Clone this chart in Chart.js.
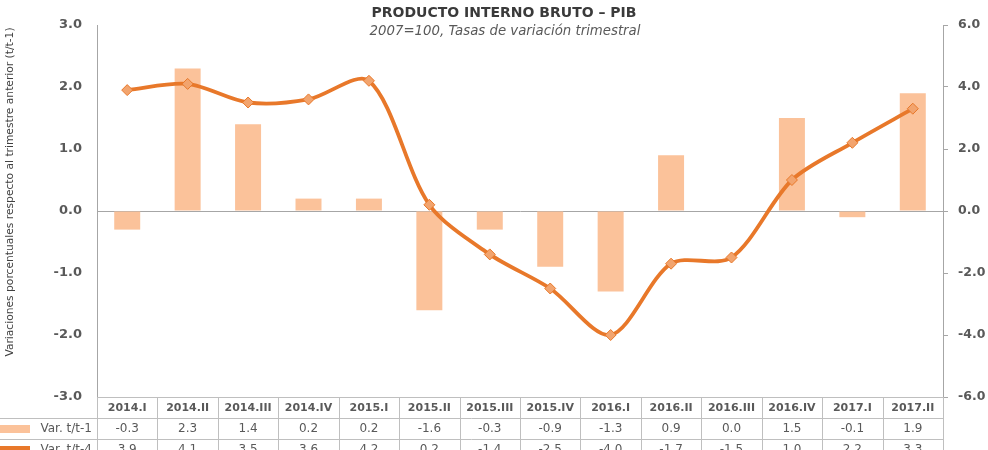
<!DOCTYPE html>
<html>
<head>
<meta charset="utf-8">
<script src="https://cdn.jsdelivr.net/npm/chart.js@4/dist/chart.umd.min.js"></script>
<style>
html,body{margin:0;padding:0;background:#fff;}
#wrap{width:988px;height:450px;position:relative;}
</style>
</head>
<body>
<div id="wrap"><canvas id="c" width="988" height="450"></canvas></div>
<script>
const categories = ["2014.I","2014.II","2014.III","2014.IV","2015.I","2015.II","2015.III","2015.IV","2016.I","2016.II","2016.III","2016.IV","2017.I","2017.II"];
const varQuarter = [-0.3, 2.3, 1.4, 0.2, 0.2, -1.6, -0.3, -0.9, -1.3, 0.9, 0.0, 1.5, -0.1, 1.9];
const varYear = [3.9, 4.1, 3.5, 3.6, 4.2, 0.2, -1.4, -2.5, -4.0, -1.7, -1.5, 1.0, 2.2, 3.3];
const seriesNames = ["Var. t/t-1", "Var. t/t-4"];
const titleText = "PRODUCTO INTERNO BRUTO \u2013 PIB";
const subtitleText = "2007=100, Tasas de variaci\u00f3n trimestral";
const leftAxisTitle = "Variaciones porcentuales respecto al trimestre anterior (t/t-1)";

const barColor = "#FBC29A";
const lineColor = "#E8782A";
const gridGray = "#BFBFBF";
const axisGray = "#A6A6A6";
const textGray = "#595959";

const fmt = v => v.toFixed(1);

const overlay = {
  id: "overlay",
  afterDraw(chart) {
    const ctx = chart.ctx;
    const x = chart.scales.x;
    const area = chart.chartArea;
    ctx.save();
    // Titles
    ctx.fillStyle = "#3a3a3a";
    ctx.textAlign = "center";
    ctx.textBaseline = "middle";
    ctx.font = "bold 14px 'DejaVu Sans'";
    ctx.fillText(titleText, 504, 13);
    ctx.font = "italic 13.3px 'DejaVu Sans'";
    ctx.fillStyle = "#595959";
    ctx.fillText(subtitleText, 505, 32);
    // Left axis title (rotated)
    ctx.save();
    ctx.translate(10, 192);
    ctx.rotate(-Math.PI / 2);
    ctx.font = "10.7px 'DejaVu Sans'";
    ctx.fillStyle = "#404040";
    ctx.fillText(leftAxisTitle, 0, 0);
    ctx.restore();

    // Data table
    const colW = x.getPixelForValue(1) - x.getPixelForValue(0);
    const top = area.bottom;
    const rowH = 21;
    const right = area.right;
    ctx.strokeStyle = gridGray;
    ctx.lineWidth = 1;
    ctx.beginPath();
    ctx.moveTo(area.left, top + 0.5); ctx.lineTo(right, top + 0.5);
    ctx.moveTo(0, top + rowH + 0.5); ctx.lineTo(right, top + rowH + 0.5);
    ctx.moveTo(0, top + 2 * rowH + 0.5); ctx.lineTo(right, top + 2 * rowH + 0.5);
    for (let i = 0; i <= categories.length; i++) {
      const bx = Math.round(x.getPixelForValue(0) - colW / 2 + i * colW) + 0.5;
      ctx.moveTo(bx, top); ctx.lineTo(bx, chart.height);
    }
    ctx.stroke();

    ctx.fillStyle = textGray;
    ctx.textAlign = "center";
    ctx.textBaseline = "middle";
    categories.forEach((c, i) => {
      const cx = x.getPixelForValue(i);
      ctx.font = "bold 11px 'DejaVu Sans'";
      ctx.fillText(c, cx, top + rowH / 2 + 0.5);
      ctx.font = "12px 'DejaVu Sans'";
      ctx.fillText(fmt(varQuarter[i]), cx, top + rowH * 1.5 + 0.5);
      ctx.fillText(fmt(varYear[i]), cx, top + rowH * 2.5 + 0.5);
    });
    // Row labels with legend swatches
    ctx.textAlign = "right";
    ctx.font = "12px 'DejaVu Sans'";
    ctx.fillText(seriesNames[0], area.left - 5, top + rowH * 1.5 + 0.5);
    ctx.fillText(seriesNames[1], area.left - 5, top + rowH * 2.5 + 0.5);
    ctx.fillStyle = barColor;
    ctx.fillRect(0, top + rowH + 7, 30, 8);
    ctx.fillStyle = lineColor;
    ctx.fillRect(0, top + 2 * rowH + 7, 30, 6);
    ctx.restore();
  }
};

new Chart(document.getElementById("c"), {
  data: {
    labels: categories,
    datasets: [
      {
        type: "line",
        label: seriesNames[1],
        data: varYear,
        yAxisID: "y2",
        borderColor: lineColor,
        borderWidth: 3.8,
        tension: 0.3,
        pointStyle: "rectRot",
        pointRadius: 5.5,
        pointBackgroundColor: "#F2A46E",
        pointBorderColor: lineColor,
        pointBorderWidth: 1,
        order: 0
      },
      {
        type: "bar",
        label: seriesNames[0],
        data: varQuarter,
        yAxisID: "y",
        backgroundColor: barColor,
        borderWidth: 0,
        categoryPercentage: 1,
        barPercentage: 0.43,
        order: 1
      }
    ]
  },
  options: {
    responsive: false,
    animation: false,
    layout: { padding: { left: 0, right: 0, top: 25, bottom: 53 } },
    plugins: { legend: { display: false }, tooltip: { enabled: false }, title: { display: false } },
    scales: {
      x: { display: false, offset: true },
      y: {
        position: "left",
        min: -3, max: 3,
        afterFit(s) { s.width = 97; },
        ticks: { stepSize: 1, callback: v => fmt(v), color: textGray, font: { family: "DejaVu Sans", size: 13, weight: "bold" }, padding: 15 },
        grid: { drawTicks: false, color: ctx => (ctx.tick && ctx.tick.value === 0) ? axisGray : "rgba(0,0,0,0)", lineWidth: 1 },
        border: { display: true, color: axisGray }
      },
      y2: {
        position: "right",
        min: -6, max: 6,
        afterFit(s) { s.width = 45; },
        ticks: { stepSize: 2, callback: v => fmt(v), color: textGray, font: { family: "DejaVu Sans", size: 12.5, weight: "bold" }, padding: 10 },
        grid: { drawOnChartArea: false, drawTicks: true, tickLength: 5, color: axisGray },
        border: { display: true, color: axisGray }
      }
    }
  },
  plugins: [overlay]
});
</script>
</body>
</html>
